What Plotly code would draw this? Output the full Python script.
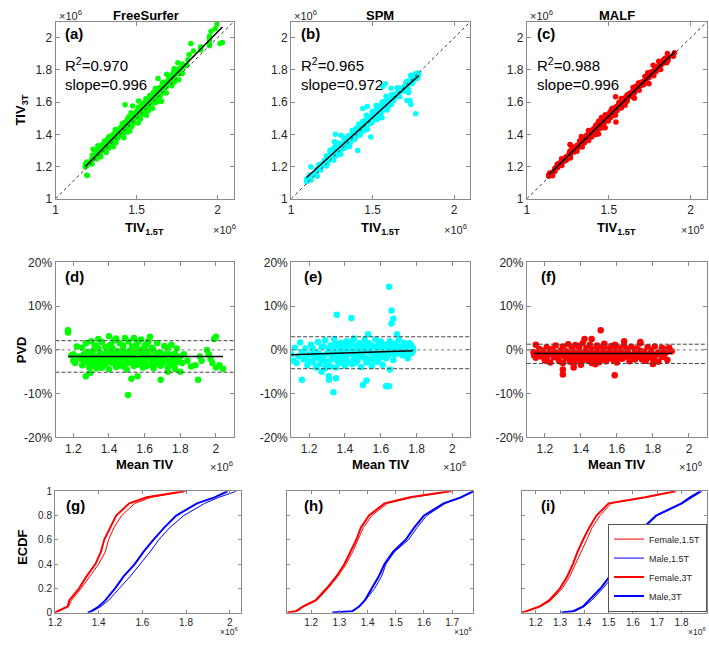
import numpy as np
import plotly.graph_objects as go

W, H = 709, 645
FONT = "Arial, Liberation Sans, sans-serif"

methods = ["FreeSurfer", "SPM", "MALF"]
r2_text = ["0.970", "0.965", "0.988"]
slope_text = ["0.996", "0.972", "0.996"]
dot_colors = ["#00ff00", "#00ffff", "#ff0000"]
panel_letters = ["(a)", "(b)", "(c)", "(d)", "(e)", "(f)", "(g)", "(h)", "(i)"]

# ---- Bland-Altman data: mean TIV (x10^6) and PVD (%) ----
fs_mean = [1.17, 1.17, 1.19, 1.20, 1.20, 1.21, 1.22, 1.23,
           1.24, 1.25, 1.25, 1.26, 1.27, 1.27, 1.28, 1.29, 1.29, 1.30,
           1.30, 1.31, 1.32, 1.32, 1.33, 1.33, 1.34, 1.35, 1.35, 1.36,
           1.36, 1.37, 1.38, 1.38, 1.39, 1.40, 1.40, 1.41, 1.41, 1.42,
           1.43, 1.43, 1.44, 1.45, 1.45, 1.46, 1.47, 1.47, 1.48, 1.49,
           1.50, 1.50, 1.51, 1.52, 1.52, 1.53, 1.54, 1.55, 1.55, 1.56,
           1.57, 1.58, 1.58, 1.59, 1.60, 1.60, 1.61, 1.62, 1.63, 1.64,
           1.64, 1.65, 1.66, 1.67, 1.67, 1.68, 1.69, 1.70, 1.71, 1.72,
           1.73, 1.74, 1.75, 1.75, 1.76, 1.77, 1.78, 1.79,
           1.38, 1.42, 1.44, 1.46, 1.48, 1.51, 1.53, 1.56, 1.57, 1.59,
           1.61, 1.62, 1.44, 1.52, 1.36,
           1.27, 1.295, 1.507, 1.526, 1.56, 1.69, 1.90, 1.73, 1.80, 1.40,
           1.63, 1.49, 1.54, 1.34,
           1.82, 1.84, 1.86, 1.885, 1.91, 1.92, 1.95, 1.96, 1.99, 2.00,
           1.98, 2.00, 2.04, 2.02, 1.97]
fs_pvd = [4.5, 4.0, -1.2, -2.5, -1.0, -3.0, 0.8, -1.5,
          -2.0, 0.5, -3.5, -1.0, 1.5, -2.8, -0.5, -4.0, -1.8, 2.0,
          -3.0, -0.2, -2.2, 1.0, -4.2, -1.5, 0.3, -2.6, -3.8, 1.8,
          -1.0, -2.0, -3.3, 0.6, -1.3, -4.4, -2.4, 1.2, -0.6, -3.0,
          -1.8, 2.2, -3.9, -0.3, -2.5, 1.5, -1.2, -3.5, 0.2, -2.1,
          -4.5, -0.9, 1.9, -2.9, -1.5, 0.7, -3.7, -2.2, 1.0, -0.5,
          -3.1, -1.7, 2.4, -4.0, -0.1, -2.6, 1.3, -1.1, -3.4, -2.0,
          0.5, -4.2, -1.4, 1.6, -2.8, -0.7, -3.6, -1.9, 0.9, -2.4,
          -3.9, -1.0, 1.2, -2.9, -1.6, -4.3, 0.3, -2.2,
          -1.9, 0.4, -1.1, -2.7, -3.8, -1.3, -2.4, -3.3, 0.1, -1.2,
          -3.7, 1.9, 2.6, -0.2, -2.9,
          -6.0, -5.2, -10.3, -6.6, -6.0, -6.8, -6.8, -5.0, -5.0, 3.1,
          3.0, 2.7, 2.7, 2.5,
          -1.0, -2.5, -3.8, -3.5, -1.5, -2.5, 0.0, -1.0, 2.5, 3.0,
          -3.0, -4.0, -4.3, -3.5, -2.0]
fs_mean_more = [1.26, 1.28, 1.30, 1.31, 1.33, 1.34, 1.35, 1.37, 1.37, 1.39,
                1.39, 1.40, 1.42, 1.42, 1.43, 1.45, 1.46, 1.47, 1.48, 1.49,
                1.50, 1.51, 1.53, 1.54, 1.55, 1.56, 1.57, 1.58, 1.59, 1.60,
                1.61, 1.62, 1.63, 1.65, 1.65, 1.66, 1.68, 1.69, 1.70, 1.72,
                1.73, 1.74, 1.76, 1.77, 1.78, 1.80, 1.81, 1.32, 1.36, 1.41]
fs_pvd_more = [-2.3, -1.4, -0.9, -3.6, 0.9, -2.0, -0.6, -1.2, -3.0, 0.0,
               -2.8, 0.9, -1.6, -2.2, -0.4, -3.2, -0.7, -2.0, 1.0, -1.5,
               -3.0, -0.5, -1.9, -0.8, -3.0, 1.7, -2.2, -0.6, -2.9, 0.9,
               -2.0, -0.4, -1.5, -2.5, 0.0, -3.2, -2.0, -0.6, -3.0, -1.0,
               0.5, -2.6, -3.4, -0.9, -2.8, -1.5, -3.0, -3.2, -4.1, -2.0]

spm_mean = [1.10, 1.11, 1.12, 1.13, 1.14, 1.15, 1.16, 1.16,
            1.17, 1.18, 1.19, 1.20, 1.21, 1.22, 1.23, 1.24, 1.25, 1.25,
            1.26, 1.27, 1.28, 1.29, 1.29, 1.30, 1.31, 1.32, 1.32, 1.33,
            1.34, 1.34, 1.35, 1.36, 1.36, 1.37, 1.38, 1.38, 1.39, 1.40,
            1.40, 1.41, 1.42, 1.42, 1.43, 1.44, 1.44, 1.45, 1.46, 1.46,
            1.47, 1.48, 1.49, 1.49, 1.50, 1.51, 1.51, 1.52, 1.53, 1.54,
            1.54, 1.55, 1.56, 1.57, 1.57, 1.58, 1.59, 1.60, 1.60, 1.61,
            1.62, 1.63, 1.64, 1.65, 1.66, 1.67, 1.68, 1.69, 1.70, 1.71,
            1.72, 1.73, 1.74, 1.74, 1.75, 1.76, 1.76, 1.77, 1.78, 1.78,
            1.28, 1.33, 1.37, 1.41, 1.45, 1.48, 1.52, 1.56, 1.59, 1.63,
            1.646, 1.66, 1.67, 1.66, 1.354, 1.436, 1.646, 1.63, 1.336, 1.31,
            1.31, 1.35, 1.50, 1.52, 1.53, 1.69, 1.65, 1.27]
spm_pvd = [-1.0, -2.5, 0.5, -3.0, -1.5, 1.7, -6.8, -0.5,
           -2.2, 0.3, -3.5, -1.0, 1.2, -2.8, -0.4, -4.0, 1.8, -1.8,
           -3.2, 0.6, -1.4, 2.2, -4.2, -0.8, -2.6, 1.0, -3.8, -0.2,
           2.5, -2.0, -4.0, 0.9, -1.2, -3.0, 1.6, -0.5, -2.4, 0.2,
           -3.6, 2.0, -1.0, -2.8, 1.3, -0.3, -3.3, 2.6, -1.6, 0.8,
           -2.5, 1.5, -0.6, -3.9, 0.4, -1.8, 2.3, -2.9, -0.1, 1.1,
           -2.2, -3.7, 0.7, 2.4, -1.3, -2.7, 0.2, 1.9, -0.9, -3.4,
           1.2, -1.9, 0.5, 2.0, -0.6, -2.3, 1.4, -0.2, 2.3, 0.6,
           -1.2, 1.6, -0.4, 0.9, -1.9, 0.3, 1.5, -0.8, 0.4, -0.2,
           -2.0, 0.8, -1.8, -0.7, -2.0, -0.9, 0.9, -1.0, -2.0, 0.6,
           14.4, 9.0, 7.1, 6.0, 8.0, 7.3, -8.3, -8.3, -9.7, -6.0,
           -6.8, -6.5, -8.0, -7.0, 3.6, 3.6, -4.5, -5.0]
spm_mean_more = [1.18, 1.20, 1.22, 1.23, 1.24, 1.26, 1.27, 1.28, 1.30, 1.31,
                 1.33, 1.34, 1.35, 1.36, 1.37, 1.38, 1.39, 1.40, 1.41, 1.42,
                 1.43, 1.44, 1.45, 1.46, 1.47, 1.48, 1.49, 1.50, 1.51, 1.52,
                 1.53, 1.54, 1.55, 1.56, 1.57, 1.58, 1.59, 1.60, 1.61, 1.62,
                 1.64, 1.65, 1.67, 1.68, 1.70, 1.71, 1.73, 1.75, 1.77, 1.72]
spm_pvd_more = [-1.6, -2.6, 0.4, -1.8, -0.6, -1.0, -2.4, 0.8, -3.0, 0.3,
                -1.5, -0.5, 1.4, -2.6, 0.2, -1.0, 1.0, -1.4, -2.4, 0.6,
                -0.8, 1.8, -1.0, -2.8, 0.3, -1.6, 1.2, -1.2, -0.2, -2.0,
                1.6, -0.6, 0.9, -2.2, 0.5, -0.8, 1.3, -1.6, 0.6, -0.4,
                -1.2, 0.8, 0.2, -1.0, 0.8, -0.8, 0.2, 0.6, 1.0, -0.3]

malf_mean = [1.137, 1.14, 1.15, 1.15, 1.16, 1.17,
             1.18, 1.19, 1.20, 1.21, 1.22, 1.23, 1.24, 1.25, 1.26, 1.27,
             1.28, 1.29, 1.30, 1.30, 1.31, 1.32, 1.33, 1.33, 1.34, 1.35,
             1.36, 1.36, 1.37, 1.38, 1.38, 1.39, 1.40, 1.40, 1.41, 1.42,
             1.42, 1.43, 1.44, 1.44, 1.45, 1.46, 1.46, 1.47, 1.48, 1.48,
             1.49, 1.50, 1.50, 1.51, 1.52, 1.52, 1.53, 1.54, 1.54, 1.55,
             1.56, 1.57, 1.57, 1.58, 1.59, 1.60, 1.60, 1.61, 1.62, 1.63,
             1.64, 1.65, 1.66, 1.67, 1.68, 1.69, 1.70, 1.71, 1.72, 1.73,
             1.74, 1.75, 1.76, 1.77, 1.78, 1.79, 1.80, 1.81, 1.82, 1.83,
             1.84, 1.85, 1.86, 1.87, 1.88,
             1.35, 1.39, 1.43, 1.47, 1.51, 1.55, 1.58, 1.62, 1.66, 1.45,
             1.51, 1.588, 1.30, 1.42, 1.46, 1.64, 1.73, 1.89, 1.80, 1.904,
             1.30, 1.36]
malf_pvd = [-0.5, -1.2, 1.2, -1.8, -0.8, 0.2,
            -1.5, -0.3, -2.4, 0.6, -1.0, -2.9, 0.2, -1.7, 1.0, -0.6,
            -2.6, -1.2, 0.8, -3.0, -0.2, -1.9, 1.3, -0.9, -2.7, 0.4,
            -1.4, -3.2, 1.1, -0.4, -2.2, 0.9, -1.1, -2.9, 1.5, -0.6,
            -1.8, 0.3, -2.5, -0.9, 1.2, -1.5, -3.0, 0.1, -0.7, -2.1,
            1.0, -1.3, -2.8, 0.5, -0.3, -1.9, 1.4, -1.0, -2.6, 0.2,
            -1.6, 0.9, -0.5, -2.3, 1.2, -1.2, -2.9, 0.4, -0.8, -2.0,
            1.0, -1.4, -0.2, -2.6, 0.7, -1.1, -2.2, 0.3, -0.9, 1.5,
            -1.7, -0.4, -2.5, 0.6, -1.3, -0.1, -2.0, 0.8, -1.0, -2.7,
            -0.5, 0.5, -1.5, -0.7, -2.3,
            -1.0, -1.6, -1.3, -2.3, -1.5, -1.1, -0.2, -1.7, -1.0, -0.4,
            4.5, -5.8, -5.6, 2.5, 2.5, 2.0, 1.8, 0.5, -3.2, -0.3,
            -4.5, -4.0]
malf_mean_more = [1.19, 1.21, 1.23, 1.25, 1.27, 1.29, 1.31, 1.32, 1.34, 1.35,
                  1.37, 1.38, 1.39, 1.41, 1.41, 1.43, 1.44, 1.45, 1.46, 1.47,
                  1.49, 1.49, 1.50, 1.52, 1.53, 1.54, 1.55, 1.56, 1.57, 1.59,
                  1.60, 1.61, 1.63, 1.64, 1.65, 1.67, 1.68, 1.70, 1.71, 1.73,
                  1.74, 1.76, 1.77, 1.79, 1.81, 1.83, 1.85, 1.86, 1.48, 1.40]
malf_pvd_more = [-1.2, -1.9, -0.4, -0.6, -1.8, -0.1, -1.5, -0.4, -1.2, -2.2,
                 -0.9, -1.7, 0.1, -0.8, -2.3, -1.9, 0.5, -2.0, -0.3, -1.1,
                 -1.9, -0.4, 0.3, -1.1, -2.2, 0.0, -1.9, -0.6, -1.4, -0.9,
                 0.2, -1.8, -0.6, -1.6, 0.2, -1.2, -2.0, -0.4, -1.6, -0.2,
                 -2.2, -1.0, -1.8, -0.9, -1.5, -0.6, -1.6, 0.2, -3.3, -3.4]

# Bland-Altman trend line (intercept %, slope %/10^6) and limits of agreement (%)
pvd_trend_intercept = [-1.5, -2.55, -0.8]
pvd_trend_slope = [0.0, 1.32, 0.0]
pvd_upper = [2.1, 3.0, 1.3]
pvd_lower = [-5.1, -4.3, -3.1]

# ---- ECDF data: TIV quantiles (x10^6) at the given cumulative levels ----
ecdf_levels = [0, 0.01, 0.05, 0.1, 0.2, 0.3, 0.4, 0.5, 0.6, 0.7, 0.8, 0.9, 0.95, 1.0]
fs_female_15 = [1.20, 1.215, 1.262, 1.275, 1.32, 1.36, 1.40, 1.43, 1.445, 1.47, 1.505, 1.565, 1.64, 1.80]
fs_male_15 = [1.35, 1.37, 1.41, 1.445, 1.495, 1.545, 1.59, 1.635, 1.675, 1.725, 1.79, 1.885, 1.95, 2.03]
fs_female_3 = [1.20, 1.21, 1.258, 1.265, 1.31, 1.345, 1.385, 1.41, 1.425, 1.452, 1.48, 1.54, 1.62, 1.79]
fs_male_3 = [1.35, 1.365, 1.40, 1.43, 1.475, 1.515, 1.565, 1.605, 1.65, 1.70, 1.755, 1.85, 1.93, 1.99]
spm_female_15 = [1.116, 1.15, 1.175, 1.22, 1.26, 1.295, 1.324, 1.347, 1.366, 1.385, 1.415, 1.47, 1.56, 1.70]
spm_male_15 = [1.275, 1.345, 1.37, 1.392, 1.425, 1.45, 1.465, 1.495, 1.545, 1.575, 1.61, 1.675, 1.735, 1.775]
spm_female_3 = [1.116, 1.145, 1.17, 1.215, 1.255, 1.29, 1.318, 1.34, 1.36, 1.376, 1.405, 1.46, 1.55, 1.69]
spm_male_3 = [1.275, 1.345, 1.37, 1.39, 1.415, 1.44, 1.46, 1.49, 1.535, 1.565, 1.60, 1.67, 1.73, 1.775]
malf_female_15 = [1.143, 1.16, 1.22, 1.262, 1.31, 1.34, 1.365, 1.387, 1.41, 1.432, 1.465, 1.51, 1.655, 1.775]
malf_male_15 = [1.306, 1.36, 1.40, 1.43, 1.477, 1.518, 1.545, 1.578, 1.612, 1.648, 1.70, 1.805, 1.845, 1.885]
malf_female_3 = [1.143, 1.16, 1.215, 1.255, 1.30, 1.33, 1.353, 1.372, 1.395, 1.42, 1.45, 1.50, 1.65, 1.775]
malf_male_3 = [1.306, 1.353, 1.395, 1.42, 1.467, 1.505, 1.533, 1.57, 1.607, 1.643, 1.695, 1.80, 1.835, 1.878]

ecdf_names = ["Female,1.5T", "Male,1.5T", "Female,3T", "Male,3T"]
ecdf_colors = ["#ff0000", "#0000ff", "#ff0000", "#0000ff"]
ecdf_widths = [1, 1, 2, 2]

ba_means = [fs_mean + fs_mean_more, spm_mean + spm_mean_more, malf_mean + malf_mean_more]
ba_pvds = [fs_pvd + fs_pvd_more, spm_pvd + spm_pvd_more, malf_pvd + malf_pvd_more]
ecdf_sets = [[fs_female_15, fs_male_15, fs_female_3, fs_male_3],
             [spm_female_15, spm_male_15, spm_female_3, spm_male_3],
             [malf_female_15, malf_male_15, malf_female_3, malf_male_3]]

# ---- layout geometry (pixels) ----
col_x = [[49, 229], [287, 468], [525, 707]]
row3_x = [[48.5, 236], [283, 471], [520, 707]]
row_y = [[15, 196], [261, 440], [495, 619]]
row1_range = [1, 2.1]
row2_xrange = [1.1, 2.1]
row3_xranges = [[1.2, 2.05], [1.115, 1.775], [1.143, 1.905]]
row3_xticks = [[1.2, 1.4, 1.6, 1.8, 2], [1.2, 1.3, 1.4, 1.5, 1.6, 1.7], [1.2, 1.3, 1.4, 1.5, 1.6, 1.7, 1.8]]


def xd(p):
    return [p[0] / W, p[1] / W]


def yd(p):
    return [1 - p[1] / H, 1 - p[0] / H]


AX = "#8a8a8a"
TXT = "#262626"


def axis_style(size=12, ticklen=4):
    return dict(showline=True, linecolor=AX, linewidth=1, mirror="ticks",
                ticks="inside", ticklen=ticklen, tickcolor=AX, tickwidth=1,
                showgrid=False, zeroline=False,
                tickfont=dict(size=size, color=TXT, family=FONT))


fig = go.Figure()
layout = {}
shapes = []
annotations = []


def ax_names(k):
    s = "" if k == 1 else str(k)
    return "x" + s, "y" + s, "xaxis" + s, "yaxis" + s


for j in range(3):
    m = np.array(ba_means[j])
    p = np.array(ba_pvds[j])
    tiv15 = m * (1 + p / 200.0)
    tiv3 = m * (1 - p / 200.0)

    # ---------- row 1 ----------
    k = 1 + j
    xa, ya, xk, yk = ax_names(k)
    fig.add_trace(go.Scatter(x=tiv15, y=tiv3, mode="markers", xaxis=xa, yaxis=ya,
                             marker=dict(size=5.5, color=dot_colors[j], line=dict(width=0)),
                             showlegend=False, hoverinfo="skip"))
    fig.add_trace(go.Scatter(x=row1_range, y=row1_range, mode="lines", xaxis=xa, yaxis=ya,
                             line=dict(color="#333333", width=1, dash="3px,3px"),
                             showlegend=False, hoverinfo="skip"))
    b1, b0 = np.polyfit(tiv15, tiv3, 1)
    fx = np.array([tiv15.min(), tiv15.max()])
    fig.add_trace(go.Scatter(x=fx, y=b0 + b1 * fx, mode="lines", xaxis=xa, yaxis=ya,
                             line=dict(color="black", width=1.5),
                             showlegend=False, hoverinfo="skip"))
    layout[xk] = dict(axis_style(), domain=xd(col_x[j]), range=row1_range, anchor=ya,
                      tickmode="array", tickvals=[1, 1.5, 2], ticktext=["1", "1.5", "2"])
    layout[yk] = dict(axis_style(), domain=yd(row_y[0]), range=row1_range, anchor=xa,
                      tickmode="array", tickvals=[1, 1.2, 1.4, 1.6, 1.8, 2],
                      ticktext=["1", "1.2", "1.4", "1.6", "1.8", "2"])

    # ---------- row 2 ----------
    k = 4 + j
    xa, ya, xk, yk = ax_names(k)
    fig.add_trace(go.Scatter(x=m, y=p, mode="markers", xaxis=xa, yaxis=ya,
                             marker=dict(size=6.5, color=dot_colors[j], line=dict(width=0)),
                             showlegend=False, hoverinfo="skip"))
    for val, dash in [(pvd_upper[j], "4px,2px"), (pvd_lower[j], "4px,2px"), (0, "dot")]:
        shapes.append(dict(type="line", xref=xa + " domain", x0=0, x1=1, yref=ya, y0=val, y1=val,
                           line=dict(color="#444444" if dash != "dot" else "#777777", width=1, dash=dash)))
    tx = np.array([m.min(), m.max()])
    fig.add_trace(go.Scatter(x=tx, y=pvd_trend_intercept[j] + pvd_trend_slope[j] * tx, mode="lines",
                             xaxis=xa, yaxis=ya, line=dict(color="black", width=1.5),
                             showlegend=False, hoverinfo="skip"))
    layout[xk] = dict(axis_style(), domain=xd(col_x[j]), range=row2_xrange, anchor=ya,
                      tickmode="array", tickvals=[1.2, 1.4, 1.6, 1.8, 2],
                      ticktext=["1.2", "1.4", "1.6", "1.8", "2"])
    layout[yk] = dict(axis_style(), domain=yd(row_y[1]), range=[-20, 20], anchor=xa,
                      tickmode="array", tickvals=[-20, -10, 0, 10, 20],
                      ticktext=["-20%", "-10%", "0%", "10%", "20%"])

    # ---------- row 3 ----------
    k = 7 + j
    xa, ya, xk, yk = ax_names(k)
    for c in range(4):
        fig.add_trace(go.Scatter(x=ecdf_sets[j][c], y=ecdf_levels, mode="lines", xaxis=xa, yaxis=ya,
                                 line=dict(color=ecdf_colors[c], width=ecdf_widths[c]),
                                 name=ecdf_names[c], showlegend=(j == 2), hoverinfo="skip"))
    layout[xk] = dict(axis_style(10, 3), domain=xd(row3_x[j]), range=row3_xranges[j], anchor=ya,
                      tickmode="array", tickvals=row3_xticks[j],
                      ticktext=[("%g" % v) for v in row3_xticks[j]])
    layout[yk] = dict(axis_style(10, 3), domain=yd(row_y[2]), range=[0, 1], anchor=xa,
                      tickmode="array", tickvals=[0, 0.2, 0.4, 0.6, 0.8, 1],
                      ticktext=["0", "0.2", "0.4", "0.6", "0.8", "1"], showticklabels=(j == 0))


def ann(text, x, y, size=12, bold=False, xanchor="center", yanchor="middle", angle=0, color="black"):
    t = "<b>" + text + "</b>" if bold else text
    annotations.append(dict(text=t, x=x / W, y=1 - y / H, xref="paper", yref="paper",
                            xanchor=xanchor, yanchor=yanchor, showarrow=False, textangle=angle,
                            font=dict(size=size, color=color, family=FONT)))


title_cx = [140, 377, 616]
label_left_r1 = [57, 295, 533]
label_left_r2 = [57, 298, 537]
label_left_r3 = [58, 298, 537]
exp_r1 = [220, 453, 692]
exp_r2 = [217, 452, 690]
exp_r3 = [224, 461, 697]
for j in range(3):
    ann(methods[j], title_cx[j], 8.5, 13, True)
    ann(panel_letters[j], label_left_r1[j], 27, 15, True, "left")
    ann(panel_letters[3 + j], label_left_r2[j], 275, 15, True, "left")
    ann(panel_letters[6 + j], label_left_r3[j], 510, 15, True, "left")
    ann("R<sup>2</sup>=" + r2_text[j], label_left_r1[j], 59, 15, False, "left")
    ann("slope=" + slope_text[j], label_left_r1[j], 79, 15, False, "left")
    ann("×10<sup>6</sup>", col_x[j][0] + 1, 8, 11, False, "left", color=TXT)
    ann("×10<sup>6</sup>", exp_r1[j], 227, 11, False, color=TXT)
    ann("TIV<sub>1.5T</sub>", (col_x[j][0] + col_x[j][1]) / 2, 226, 13, True)
    ann("×10<sup>6</sup>", exp_r2[j], 469, 11, False, color=TXT)
    ann("Mean TIV", (col_x[j][0] + col_x[j][1]) / 2, 468, 13, True)
    ann("×10<sup>6</sup>", exp_r3[j], 638, 8.5, False, color=TXT)

ann("TIV<sub>3T</sub>", 15, 105, 13, True, angle=-90)
ann("PVD", 15, 350, 13, True, angle=-90)
ann("ECDF", 15, 552, 13, True, angle=-90)

fig.update_layout(**layout)
fig.update_layout(
    width=W, height=H, autosize=False,
    margin=dict(l=0, r=0, t=0, b=0),
    paper_bgcolor="white", plot_bgcolor="white",
    font=dict(family=FONT, color=TXT),
    shapes=shapes, annotations=annotations,
    legend=dict(x=707 / W, y=1 - 618 / H, xanchor="right", yanchor="bottom",
                bgcolor="white", bordercolor="#555555", borderwidth=1,
                font=dict(size=9, color=TXT, family=FONT), tracegroupgap=0,
                itemwidth=30),
)
fig.write_html("out.html", config={"displayModeBar": False},
               post_script="document.body.style.margin='0';document.body.style.overflow='hidden';")
